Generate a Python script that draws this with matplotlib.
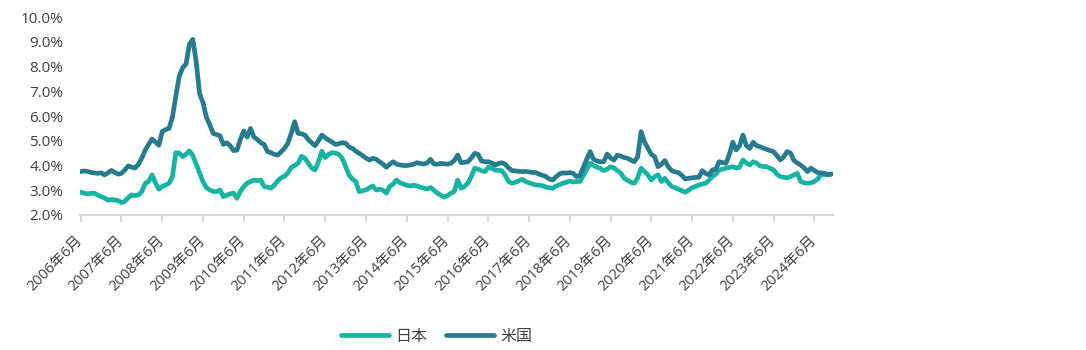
import matplotlib
matplotlib.use("Agg")
import matplotlib.pyplot as plt
import numpy as np
import pandas as pd

plt.rcParams["font.family"] = ["Open Sans", "Noto Sans CJK JP", "DejaVu Sans"]

# monthly values (%), 2006/6 - 2024/11
jp_rate = [
    2.92, 2.88, 2.85, 2.87, 2.88, 2.80, 2.74, 2.68, 2.60, 2.62, 2.60, 2.58,
    2.50, 2.55, 2.70, 2.81, 2.78, 2.81, 2.95, 3.28, 3.35, 3.62, 3.30, 3.04,
    3.15, 3.21, 3.28, 3.55, 4.52, 4.50, 4.36, 4.45, 4.59, 4.40, 4.05, 3.70,
    3.35, 3.10, 3.01, 2.95, 2.94, 3.01, 2.74, 2.80, 2.85, 2.88, 2.67, 2.95,
    3.15, 3.28, 3.35, 3.41, 3.38, 3.41, 3.15, 3.12, 3.08, 3.20, 3.38, 3.50,
    3.56, 3.70, 3.92, 4.00, 4.09, 4.37, 4.29, 4.09, 3.90, 3.82, 4.15, 4.58,
    4.32, 4.45, 4.52, 4.50, 4.45, 4.29, 3.95, 3.62, 3.45, 3.35, 2.94, 2.98,
    3.01, 3.10, 3.17, 3.01, 3.04, 3.00, 2.88, 3.15, 3.25, 3.41, 3.30, 3.25,
    3.20, 3.17, 3.20, 3.17, 3.12, 3.08, 3.05, 3.11, 3.00, 2.88, 2.80, 2.72,
    2.78, 2.88, 2.95, 3.41, 3.08, 3.15, 3.28, 3.55, 3.89, 3.85, 3.79, 3.75,
    3.93, 3.88, 3.82, 3.80, 3.79, 3.60, 3.35, 3.28, 3.32, 3.38, 3.44, 3.35,
    3.30, 3.25, 3.21, 3.20, 3.18, 3.12, 3.10, 3.08, 3.17, 3.22, 3.28, 3.32,
    3.37, 3.33, 3.35, 3.35, 3.60, 3.85, 4.09, 4.00, 3.93, 3.88, 3.79, 3.85,
    3.95, 3.90, 3.79, 3.70, 3.48, 3.40, 3.32, 3.28, 3.50, 3.89, 3.75, 3.62,
    3.41, 3.55, 3.62, 3.35, 3.48, 3.30, 3.15, 3.10, 3.04, 2.98, 2.92, 3.00,
    3.10, 3.15, 3.21, 3.25, 3.28, 3.40, 3.55, 3.65, 3.82, 3.85, 3.89, 3.92,
    3.95, 3.90, 3.93, 4.22, 4.10, 4.02, 4.15, 4.10, 3.98, 3.96, 3.95, 3.88,
    3.82, 3.65, 3.55, 3.52, 3.50, 3.55, 3.62, 3.68, 3.35, 3.30, 3.28, 3.30,
    3.35, 3.45, 3.62, 3.64, 3.65, 3.65,
]

us_rate = [
    3.75, 3.78, 3.76, 3.72, 3.70, 3.68, 3.70, 3.62, 3.70, 3.80, 3.72, 3.65,
    3.68, 3.82, 3.98, 3.93, 3.90, 4.05, 4.30, 4.62, 4.85, 5.07, 4.95, 4.82,
    5.37, 5.45, 5.50, 5.95, 6.80, 7.60, 7.95, 8.10, 8.90, 9.10, 8.20, 6.90,
    6.55, 5.95, 5.65, 5.30, 5.25, 5.20, 4.85, 4.92, 4.80, 4.60, 4.62, 5.05,
    5.40, 5.15, 5.50, 5.15, 5.05, 4.92, 4.85, 4.56, 4.52, 4.45, 4.42, 4.55,
    4.69, 4.90, 5.30, 5.77, 5.30, 5.28, 5.23, 5.05, 4.92, 4.80, 5.00, 5.23,
    5.12, 5.03, 4.95, 4.85, 4.88, 4.92, 4.90, 4.75, 4.69, 4.58, 4.49, 4.40,
    4.30, 4.22, 4.29, 4.25, 4.15, 4.05, 3.93, 4.05, 4.15, 4.05, 4.02, 4.00,
    4.00, 4.02, 4.05, 4.11, 4.08, 4.06, 4.10, 4.25, 4.06, 4.05, 4.08, 4.07,
    4.05, 4.09, 4.20, 4.42, 4.11, 4.13, 4.15, 4.30, 4.49, 4.45, 4.18, 4.15,
    4.15, 4.10, 4.02, 4.08, 4.11, 4.05, 3.90, 3.79, 3.78, 3.76, 3.75, 3.76,
    3.74, 3.72, 3.71, 3.65, 3.60, 3.55, 3.45, 3.41, 3.55, 3.66, 3.70, 3.69,
    3.71, 3.68, 3.55, 3.60, 3.93, 4.25, 4.56, 4.25, 4.18, 4.15, 4.15, 4.46,
    4.30, 4.22, 4.42, 4.38, 4.32, 4.29, 4.22, 4.15, 4.35, 5.37, 4.95, 4.70,
    4.45, 4.35, 3.95, 4.05, 4.20, 3.95, 3.79, 3.74, 3.71, 3.60, 3.45, 3.48,
    3.50, 3.52, 3.52, 3.79, 3.68, 3.62, 3.82, 3.85, 4.15, 4.12, 4.09, 4.45,
    4.94, 4.63, 4.80, 5.23, 4.80, 4.69, 4.94, 4.80, 4.76, 4.70, 4.65, 4.60,
    4.56, 4.40, 4.22, 4.35, 4.56, 4.50, 4.20, 4.10, 4.02, 3.90, 3.75, 3.89,
    3.80, 3.71, 3.70, 3.68, 3.62, 3.65,
]

tick_years = [2006, 2007, 2008, 2009, 2010, 2011, 2012, 2013, 2014, 2015,
              2016, 2017, 2018, 2019, 2020, 2021, 2022, 2023, 2024]

months = pd.date_range("2006-06-01", periods=len(jp_rate), freq="MS")
x = np.arange(len(months))

fig = plt.figure(figsize=(10.86, 3.5), dpi=100)
ax = fig.add_axes([0.0737, 0.386, 0.6933, 0.565])

ax.plot(x, jp_rate, color="#17B3A3", linewidth=3.4, label="日本",
        solid_joinstyle="round", solid_capstyle="round")
ax.plot(x, us_rate, color="#267C8E", linewidth=3.4, label="米国",
        solid_joinstyle="round", solid_capstyle="round")

ax.set_xlim(-0.2, len(x) - 0.5)
ax.set_ylim(2.0, 10.0)
ax.set_yticks(np.arange(2.0, 10.01, 1.0))
ax.yaxis.set_major_formatter(matplotlib.ticker.FuncFormatter(lambda v, p: f"{v:.1f}%"))

tick_pos = [i for i, d in enumerate(months) if d.month == 6]
ax.set_xticks(tick_pos)
ax.set_xticklabels([f"{y}年6月" for y in tick_years], rotation=45,
                   ha="right", va="center", rotation_mode="anchor")

for s in ["top", "right", "left"]:
    ax.spines[s].set_visible(False)
ax.spines["bottom"].set_color("#D9D9D9")
ax.spines["bottom"].set_linewidth(1.5)
ax.tick_params(axis="x", direction="out", length=5, width=1.5, color="#D9D9D9",
               labelsize=10.5, labelcolor="#404040", pad=12)
ax.tick_params(axis="y", length=0, labelsize=11, labelcolor="#404040", pad=12)

leg = fig.legend(loc="center", bbox_to_anchor=(0.402, 0.037), ncol=2, frameon=False,
                 fontsize=11.5, handlelength=3.0, handletextpad=0.4, columnspacing=1.2)
for t in leg.get_texts():
    t.set_color("#404040")

fig.savefig("out.png", dpi=100)
